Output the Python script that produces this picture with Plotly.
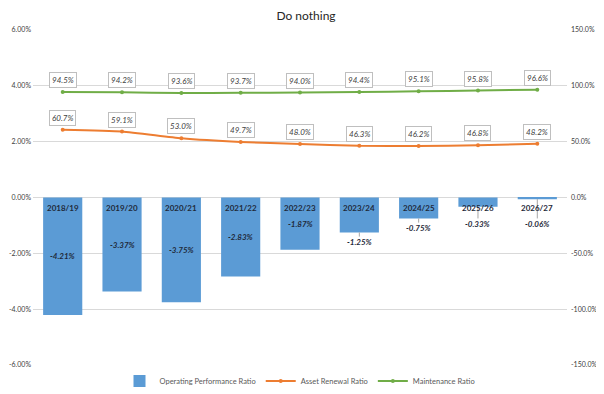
import plotly.graph_objects as go

categories = ["2018/19", "2019/20", "2020/21", "2021/22", "2022/23",
              "2023/24", "2024/25", "2025/26", "2026/27"]
operating_performance = [-4.21, -3.37, -3.75, -2.83, -1.87, -1.25, -0.75, -0.33, -0.06]
asset_renewal = [60.7, 59.1, 53.0, 49.7, 48.0, 46.3, 46.2, 46.8, 48.2]
maintenance = [94.5, 94.2, 93.6, 93.7, 94.0, 94.4, 95.1, 95.8, 96.6]

left_ticks = [-6, -4, -2, 0, 2, 4, 6]
right_ticks = [-150, -100, -50, 0, 50, 100, 150]

BLUE = "#5B9BD5"
ORANGE = "#ED7D31"
GREEN = "#70AD47"
FONT = "Lato, Liberation Sans, sans-serif"

fig = go.Figure()
fig.add_trace(go.Bar(x=categories, y=operating_performance, name="Operating Performance Ratio",
                     marker=dict(color=BLUE, line=dict(width=0)), yaxis="y"))
fig.add_trace(go.Scatter(x=categories, y=asset_renewal, name="Asset Renewal Ratio", yaxis="y2",
                         mode="lines+markers", line=dict(color=ORANGE, width=2, shape="spline", smoothing=0.5),
                         marker=dict(color=ORANGE, size=4)))
fig.add_trace(go.Scatter(x=categories, y=maintenance, name="Maintenance Ratio", yaxis="y2",
                         mode="lines+markers", line=dict(color=GREEN, width=2, shape="spline", smoothing=0.5),
                         marker=dict(color=GREEN, size=4)))

annotations = []
shapes = []
for c, v in zip(categories, operating_performance):
    annotations.append(dict(x=c, y=0, xref="x", yref="y", text="<b>%s</b>" % c, showarrow=False,
                            yanchor="top", yshift=-3, font=dict(family=FONT, size=8, color="#1F2A3A")))
    if v <= -1.5:
        ly = v / 2
        annotations.append(dict(x=c, y=ly, xref="x", yref="y", text="<b><i>%.2f%%</i></b>" % v,
                                showarrow=False, font=dict(family=FONT, size=8, color="#1F2A3A")))
    else:
        ly = min(v - 0.35, -0.95)
        annotations.append(dict(x=c, y=ly, xref="x", yref="y", text="<b><i>%.2f%%</i></b>" % v,
                                showarrow=False, font=dict(family=FONT, size=8, color="#1F2A3A")))
        shapes.append(dict(type="line", xref="x", yref="y", x0=c, x1=c, y0=v, y1=ly + 0.2,
                           line=dict(color="#A6A6A6", width=1)))

for series in (asset_renewal, maintenance):
    for c, v in zip(categories, series):
        annotations.append(dict(x=c, y=v, xref="x", yref="y2", text="<i>%.1f%%</i>" % v,
                                showarrow=False, yshift=12, bgcolor="white", bordercolor="#BFBFBF",
                                borderwidth=1, borderpad=2,
                                font=dict(family=FONT, size=8, color="#404040")))

fig.update_layout(
    width=596, height=386,
    margin=dict(l=25, r=37, t=22, b=29, autoexpand=False),
    paper_bgcolor="white", plot_bgcolor="white",
    title=dict(text="Do nothing", x=0.5, xanchor="center", y=0.99, yanchor="top",
               pad=dict(t=0, b=0),
               font=dict(family="Lato, sans-serif", size=12, color="#262626")),
    bargap=0.34,
    showlegend=True,
    legend=dict(orientation="h", x=0.5, xanchor="center", y=-0.048, yanchor="middle",
                font=dict(family=FONT, size=7.5, color="#595959"), itemwidth=30,
                tracegroupgap=0),
    xaxis=dict(showticklabels=False, showgrid=False, zeroline=False, showline=False, ticks=""),
    yaxis=dict(range=[-6, 6], tickvals=left_ticks, ticktext=["%.2f%%" % t for t in left_ticks],
               showgrid=True, gridcolor="#D9D9D9", gridwidth=1, zeroline=False, showline=False,
               tickfont=dict(family=FONT, size=7, color="#404040"), ticks="", ticklabelstandoff=1),
    yaxis2=dict(range=[-150, 150], tickvals=right_ticks, ticktext=["%.1f%%" % t for t in right_ticks],
                overlaying="y", side="right", showgrid=False, zeroline=False, showline=False,
                tickfont=dict(family=FONT, size=7, color="#404040"), ticks="", ticklabelstandoff=3),
    annotations=annotations,
    shapes=shapes,
)

fig.write_html("out.html")
